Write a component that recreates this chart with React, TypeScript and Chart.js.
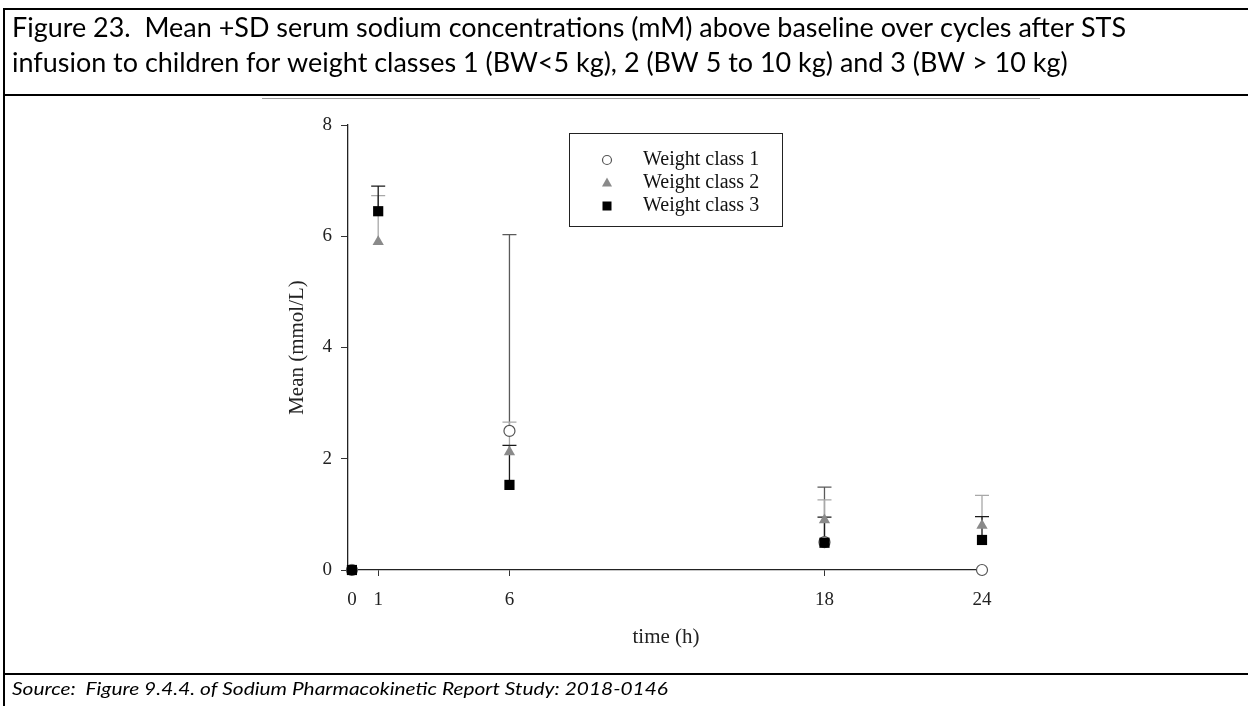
import React, { useEffect, useRef } from "react";
import { Chart, registerables } from "chart.js";

Chart.register(...registerables);

// ---------- data ----------
const titleLines = [
  "Figure 23.  Mean +SD serum sodium concentrations (mM) above baseline over cycles after STS",
  "infusion to children for weight classes 1 (BW<5 kg), 2 (BW 5 to 10 kg) and 3 (BW > 10 kg)",
];
const sourceText = "Source:  Figure 9.4.4. of Sodium Pharmacokinetic Report Study: 2018-0146";
const xTickValues = [0, 1, 6, 18, 24];
const yAxisTitle = "Mean (mmol/L)";
const xAxisTitle = "time (h)";

const seriesLabels = ["Weight class 1", "Weight class 2", "Weight class 3"];

const class1Times = [0, 6, 18, 24];
const class1Mean = [0, 2.5, 0.5, 0];
const class1Upper = [null, 6.03, 1.49, null];

const class2Times = [0, 1, 6, 18, 24];
const class2Mean = [0, 5.9, 2.12, 0.9, 0.8];
const class2Upper = [null, 6.73, 2.66, 1.26, 1.34];

const class3Times = [0, 1, 6, 18, 24];
const class3Mean = [0, 6.45, 1.53, 0.49, 0.54];
const class3Upper = [null, 6.9, 2.24, 0.95, 0.96];

const errorColors = ["#5a5a5a", "#a8a8a8", "#1a1a1a"];
const uppers = [class1Upper, class2Upper, class3Upper];

const SERIF = "'Liberation Serif', 'Times New Roman', serif";
const SANS = "Lato, 'Open Sans', sans-serif";

function fitText(ctx: CanvasRenderingContext2D, text: string, x: number, y: number, targetW: number) {
  const w = ctx.measureText(text).width;
  const s = targetW / w;
  ctx.save();
  ctx.translate(x, y);
  ctx.scale(s, 1);
  ctx.fillText(text, 0, 0);
  ctx.restore();
  return s;
}

const pagePlugin = {
  id: "page",
  beforeDraw(chart: any) {
    const ctx = chart.ctx as CanvasRenderingContext2D;
    ctx.save();
    ctx.fillStyle = "#fff";
    ctx.fillRect(0, 0, chart.width, chart.height);
    ctx.fillStyle = "#000";
    // borders
    ctx.fillRect(3, 8, 2, 698);
    ctx.fillRect(3, 8, 1245, 2);
    ctx.fillRect(3, 94, 1245, 2);
    ctx.fillRect(3, 673, 1245, 2);
    ctx.fillStyle = "#9a9a9a";
    ctx.fillRect(262, 98, 778, 1);
    // title
    ctx.fillStyle = "#000";
    ctx.font = `26px ${SANS}`;
    ctx.textBaseline = "alphabetic";
    ctx.textAlign = "left";
    const s = ctx.measureText(titleLines[0]).width;
    const scale = 1114 / s;
    fitText(ctx, titleLines[0], 12, 37, 1114);
    const w2 = ctx.measureText(titleLines[1]).width * scale;
    fitText(ctx, titleLines[1], 12, 72, w2);
    // source
    ctx.font = `italic 18px ${SANS}`;
    fitText(ctx, sourceText, 12, 695, 656);
    ctx.restore();
  },
};

const errorBarPlugin = {
  id: "errorBars",
  beforeDatasetsDraw(chart: any) {
    const ctx = chart.ctx as CanvasRenderingContext2D;
    const xs = chart.scales.x;
    const ys = chart.scales.y;
    ctx.save();
    chart.data.datasets.forEach((ds: any, i: number) => {
      const up = uppers[i];
      ctx.strokeStyle = errorColors[i];
      ctx.lineWidth = 1.3;
      ds.data.forEach((p: any, j: number) => {
        const u = up[j];
        if (u === null || u === undefined) return;
        const x = xs.getPixelForValue(p.x);
        const y1 = ys.getPixelForValue(p.y);
        const y2 = ys.getPixelForValue(u);
        ctx.beginPath();
        ctx.moveTo(x, y1);
        ctx.lineTo(x, y2);
        ctx.moveTo(x - 7, y2);
        ctx.lineTo(x + 7, y2);
        ctx.stroke();
      });
    });
    ctx.restore();
  },
};

const overlayPlugin = {
  id: "overlay",
  afterDraw(chart: any) {
    const ctx = chart.ctx as CanvasRenderingContext2D;
    const area = chart.chartArea;
    ctx.save();
    ctx.fillStyle = "#222";
    ctx.font = `21px ${SERIF}`;
    ctx.textAlign = "center";
    ctx.textBaseline = "middle";
    // x title
    ctx.fillText(xAxisTitle, 666, 637);
    // y title
    ctx.save();
    ctx.translate(297, (area.top + area.bottom) / 2);
    ctx.rotate(-Math.PI / 2);
    ctx.fillText(yAxisTitle, 0, 0);
    ctx.restore();
    // legend
    ctx.strokeStyle = "#222";
    ctx.lineWidth = 1;
    ctx.strokeRect(569.5, 133.5, 213, 93);
    const rows = [160, 183, 206];
    const mx = 607;
    // circle
    ctx.beginPath();
    ctx.arc(mx, rows[0], 4.5, 0, Math.PI * 2);
    ctx.fillStyle = "#fff";
    ctx.fill();
    ctx.strokeStyle = "#555";
    ctx.lineWidth = 1.2;
    ctx.stroke();
    // triangle
    ctx.beginPath();
    ctx.moveTo(mx, rows[1] - 5.5);
    ctx.lineTo(mx + 5, rows[1] + 3.5);
    ctx.lineTo(mx - 5, rows[1] + 3.5);
    ctx.closePath();
    ctx.fillStyle = "#8a8a8a";
    ctx.fill();
    // square
    ctx.fillStyle = "#000";
    ctx.fillRect(mx - 4.5, rows[2] - 4.5, 9, 9);
    // texts
    ctx.fillStyle = "#111";
    ctx.textAlign = "left";
    ctx.font = `20px ${SERIF}`;
    seriesLabels.forEach((l, i) => ctx.fillText(l, 643, rows[i]));
    ctx.restore();
  },
};

export default function App() {
  const ref = useRef<HTMLCanvasElement | null>(null);
  useEffect(() => {
    if (!ref.current) return;
    const mk = (t: number[], m: number[]) => t.map((x, i) => ({ x, y: m[i] }));
    const chart = new Chart(ref.current, {
      type: "scatter",
      data: {
        datasets: [
          {
            label: seriesLabels[0],
            data: mk(class1Times, class1Mean),
            pointStyle: "circle",
            pointRadius: 5.5,
            backgroundColor: "#fff",
            borderColor: "#555",
            borderWidth: 1.2,
            clip: false,
            order: 3,
          },
          {
            label: seriesLabels[1],
            data: mk(class2Times, class2Mean),
            pointStyle: "triangle",
            pointRadius: 6.5,
            backgroundColor: "#8a8a8a",
            borderColor: "#8a8a8a",
            borderWidth: 0,
            clip: false,
            order: 2,
          },
          {
            label: seriesLabels[2],
            data: mk(class3Times, class3Mean),
            pointStyle: "rect",
            pointRadius: 7.2,
            backgroundColor: "#000",
            borderColor: "#000",
            borderWidth: 0,
            clip: false,
            order: 1,
          },
        ],
      },
      options: {
        responsive: false,
        animation: false,
        events: [],
        layout: { padding: { left: 250, right: 266, top: 125, bottom: 36 } },
        plugins: { legend: { display: false }, tooltip: { enabled: false }, title: { display: false } },
        scales: {
          x: {
            type: "linear",
            min: -0.15,
            max: 24,
            afterBuildTicks: (s: any) => {
              s.ticks = xTickValues.map((v) => ({ value: v }));
            },
            afterFit: (s: any) => {
              s.height = 100;
            },
            grid: { display: true, drawOnChartArea: false, drawTicks: true, tickLength: 6, color: "#333", tickColor: "#333" },
            border: { display: true, color: "#222", width: 1.3 },
            ticks: {
              autoSkip: false,
              maxRotation: 0,
              padding: 13,
              color: "#222",
              font: { family: SERIF, size: 19 },
            },
          },
          y: {
            min: 0,
            max: 8,
            afterFit: (s: any) => {
              s.width = 98;
            },
            grid: { display: true, drawOnChartArea: false, drawTicks: true, tickLength: 7, color: "#333", tickColor: "#333" },
            border: { display: true, color: "#222", width: 1.3 },
            ticks: {
              stepSize: 2,
              padding: 9,
              color: "#222",
              font: { family: SERIF, size: 19 },
            },
          },
        },
      },
      plugins: [pagePlugin, errorBarPlugin, overlayPlugin],
    });
    return () => chart.destroy();
  }, []);
  return (
    <div style={{ position: "absolute", left: 0, top: 0, width: 1248, height: 706, background: "#fff" }}>
      <canvas ref={ref} width={1248} height={706} style={{ display: "block" }} />
    </div>
  );
}
